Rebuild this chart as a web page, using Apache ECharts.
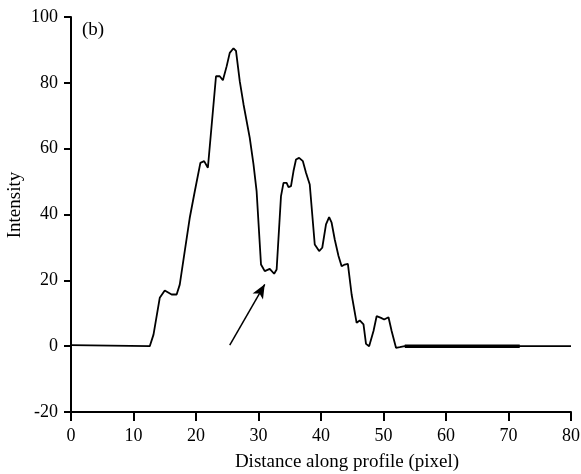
<!DOCTYPE html>
<html><head><meta charset="utf-8">
<script src="https://cdn.jsdelivr.net/npm/echarts@6/dist/echarts.min.js"></script>
<style>html,body{margin:0;padding:0;background:#fff}#c{width:581px;height:474px}</style>
</head><body><div id="c"></div>
<script>
var profileX = [0, 12.6, 13.2, 14.2, 15.0, 16.1, 16.9, 17.4, 18.2, 19.0, 19.8, 20.7, 21.3, 21.9, 23.2, 23.8, 24.3, 24.9, 25.4, 26.0, 26.4, 27.0, 27.6, 28.6, 29.2, 29.7, 30.4, 31.0, 31.8, 32.5, 32.9, 33.6, 34.0, 34.5, 34.8, 35.2, 35.6, 36.0, 36.5, 37.1, 37.6, 38.2, 39.0, 39.7, 40.2, 40.8, 41.3, 41.7, 42.2, 42.8, 43.3, 43.8, 44.3, 44.9, 45.7, 46.2, 46.8, 47.2, 47.7, 48.4, 48.9, 49.6, 50.1, 50.8, 51.3, 52.0, 52.6, 53.4, 80];
var profileY = [0.3, 0, 3.5, 14.7, 16.9, 15.7, 15.7, 18.7, 28.9, 39, 47, 55.7, 56.2, 54.2, 82, 82, 80.8, 85, 89.1, 90.5, 89.7, 80.5, 73.5, 63.3, 55.2, 47, 24.8, 22.8, 23.5, 22, 23.3, 45.6, 49.6, 49.6, 48.3, 48.6, 53.2, 56.7, 57.2, 56.2, 52.7, 49.1, 30.9, 28.9, 29.9, 37, 39.2, 37.5, 32.4, 27.4, 24.3, 24.8, 25.0, 15.7, 7.1, 7.8, 6.6, 0.7, 0, 4.6, 9.1, 8.6, 8.1, 8.8, 4.6, -0.5, -0.3, 0, 0];
var thickX = [53.4, 71.8];
var thickY = [0, 0];
var arrowFrom = [25.4, 0.3];
var arrowTo = [31.0, 18.8];
var xTicks = {min: 0, max: 80, interval: 10};
var yTicks = {min: -20, max: 100, interval: 20};
var panelLabel = '(b)';
var xName = 'Distance along profile (pixel)';
var yName = 'Intensity';

function pairs(xs, ys){ return xs.map(function(x,i){ return [x, ys[i]]; }); }
var font = '"Liberation Serif", "Times New Roman", serif';
var chart = echarts.init(document.getElementById('c'), null, {renderer:'canvas'});
chart.setOption({
  animation:false,
  backgroundColor:'#fff',
  grid:{left:71, right:10, top:17, bottom:62, containLabel:false, outerBoundsMode:'none'},
  xAxis:{type:'value', min:xTicks.min, max:xTicks.max, interval:xTicks.interval,
    axisLine:{onZero:false, lineStyle:{color:'#000', width:2}},
    axisTick:{length:9, lineStyle:{color:'#000', width:2}},
    axisLabel:{fontFamily:font, fontSize:18, color:'#000', margin:15},
    splitLine:{show:false}},
  yAxis:{type:'value', min:yTicks.min, max:yTicks.max, interval:yTicks.interval,
    axisLine:{show:true, lineStyle:{color:'#000', width:2}},
    axisTick:{show:true, length:7, lineStyle:{color:'#000', width:2}},
    axisLabel:{fontFamily:font, fontSize:18, color:'#000', margin:13},
    splitLine:{show:false}},
  graphic:[
    {type:'text', left:82, top:21, style:{text:panelLabel, font:'19px ' + font, fill:'#000'}},
    {type:'text', x:347, y:462, style:{text:xName, font:'19px ' + font, fill:'#000', textAlign:'center', textVerticalAlign:'middle'}},
    {type:'text', x:15, y:205, rotation:Math.PI/2, style:{text:yName, font:'19px ' + font, fill:'#000', textAlign:'center', textVerticalAlign:'middle'}}
  ],
  series:[
    {type:'line', data:pairs(profileX, profileY), showSymbol:false, symbol:'none',
      lineStyle:{color:'#000', width:1.8}, z:3,
      markLine:{silent:true, symbol:['none','arrow'], symbolSize:[9,14],
        lineStyle:{color:'#000', width:1.5, type:'solid'}, label:{show:false},
        data:[[{coord:arrowFrom},{coord:arrowTo}]]}},
    {type:'line', data:pairs(thickX, thickY), showSymbol:false, symbol:'none',
      lineStyle:{color:'#000', width:3.5}, z:4}
  ]
});
</script></body></html>
